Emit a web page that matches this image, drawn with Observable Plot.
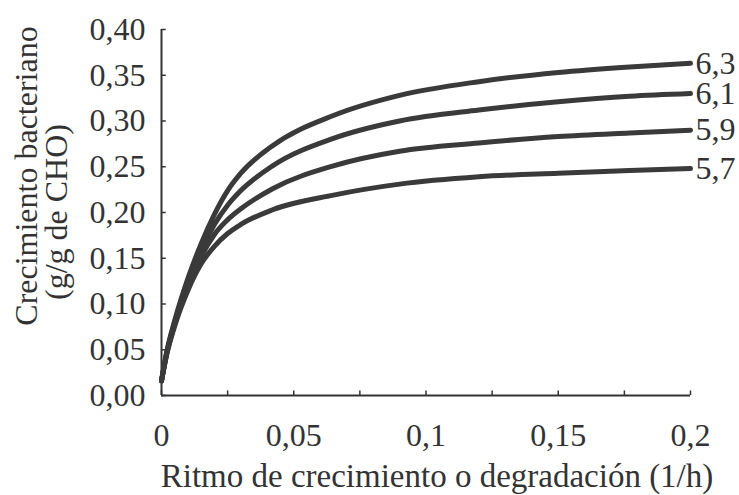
<!DOCTYPE html>
<html>
<head>
<meta charset="utf-8">
<script src="https://cdn.jsdelivr.net/npm/d3@7"></script>
<script src="https://cdn.jsdelivr.net/npm/@observablehq/plot@0.6"></script>
<style>
  html, body { margin: 0; padding: 0; background: #fff; }
  #chart { width: 739px; height: 495px; }
</style>
</head>
<body>
<div id="chart"></div>
<script>
// Ritmo de crecimiento o degradación (1/h)
const rates    = [0,     0.002, 0.005, 0.01,  0.015, 0.02,  0.025, 0.03,  0.042, 0.065, 0.09,  0.12,  0.15,  0.177, 0.2];
const seriesNames = ["6,3", "6,1", "5,9", "5,7"];
const growth63 = [0.016, 0.048, 0.082, 0.128, 0.166, 0.198, 0.224, 0.243, 0.273, 0.306, 0.328, 0.343, 0.353, 0.359, 0.363];
const growth61 = [0.016, 0.047, 0.080, 0.124, 0.159, 0.187, 0.208, 0.224, 0.251, 0.281, 0.300, 0.312, 0.321, 0.327, 0.330];
const growth59 = [0.016, 0.046, 0.078, 0.120, 0.152, 0.176, 0.192, 0.204, 0.226, 0.251, 0.267, 0.276, 0.283, 0.287, 0.290];
const growth57 = [0.016, 0.045, 0.076, 0.115, 0.144, 0.163, 0.177, 0.187, 0.203, 0.219, 0.231, 0.239, 0.243, 0.246, 0.248];
const yTicks = [0, 0.05, 0.1, 0.15, 0.2, 0.25, 0.3, 0.35, 0.4];
const xTicks = [0, 0.05, 0.1, 0.15, 0.2];
const xMinorTicks = [0, 0.025, 0.05, 0.075, 0.1, 0.125, 0.15, 0.175, 0.2];
const xTitle = "Ritmo de crecimiento o degradación (1/h)";
const yTitle1 = "Crecimiento bacteriano";
const yTitle2 = "(g/g de CHO)";

const allSeries = [growth63, growth61, growth59, growth57];
const rows = [];
allSeries.forEach((vals, i) => vals.forEach((v, j) => rows.push({series: seriesNames[i], x: rates[j], y: v})));
const ends = allSeries.map((vals, i) => ({series: seriesNames[i], x: rates[rates.length - 1], y: vals[vals.length - 1]}));

const comma = s => String(s).replace(".", ",");
const ink = "#333";
const font = "'Liberation Serif', 'Times New Roman', serif";

const chart = Plot.plot({
  width: 739,
  height: 495,
  marginLeft: 161,
  marginRight: 49,
  marginTop: 29,
  marginBottom: 100,
  style: {fontFamily: font, fontSize: "32px", color: ink, background: "#fff"},
  x: {domain: [0, 0.2]},
  y: {domain: [0, 0.4]},
  marks: [
    Plot.axisY({ticks: yTicks, tickSize: 0, tickPadding: 16, tickFormat: d => d.toFixed(2).replace(".", ","), label: null, fontSize: 32}),
    Plot.axisX({ticks: xTicks, tickSize: 0, tickPadding: 28, tickFormat: d => comma(d), label: null, fontSize: 32}),
    Plot.ruleX([0], {y1: 0, y2: 0.4, stroke: ink, strokeWidth: 2}),
    Plot.ruleY([0], {x1: 0, x2: 0.2, stroke: ink, strokeWidth: 2}),
    Plot.ruleY(yTicks, {y: d => d, x1: 0, x2: 0.0018, stroke: ink, strokeWidth: 1.5}),
    Plot.ruleX(xMinorTicks, {x: d => d, y1: 0, y2: 0.005, stroke: ink, strokeWidth: 1.5}),
    Plot.line(rows, {x: "x", y: "y", z: "series", stroke: "#3a3a3a", strokeWidth: 5, curve: "monotone-x"}),
    Plot.text(ends, {x: "x", y: "y", text: "series", dx: 5, textAnchor: "start", fill: ink, fontSize: 32})
  ]
});

const svg = d3.select(chart);
svg.append("text")
  .attr("x", 437).attr("y", 487)
  .attr("text-anchor", "middle")
  .attr("fill", ink).style("font-family", font).style("font-size", "33px")
  .text(xTitle);
svg.append("text")
  .attr("transform", "translate(37,176) rotate(-90)")
  .attr("text-anchor", "middle")
  .attr("fill", ink).style("font-family", font).style("font-size", "32px")
  .text(yTitle1);
svg.append("text")
  .attr("transform", "translate(67,212) rotate(-90)")
  .attr("text-anchor", "middle")
  .attr("fill", ink).style("font-family", font).style("font-size", "32px")
  .text(yTitle2);

document.getElementById("chart").append(chart);
</script>
</body>
</html>
